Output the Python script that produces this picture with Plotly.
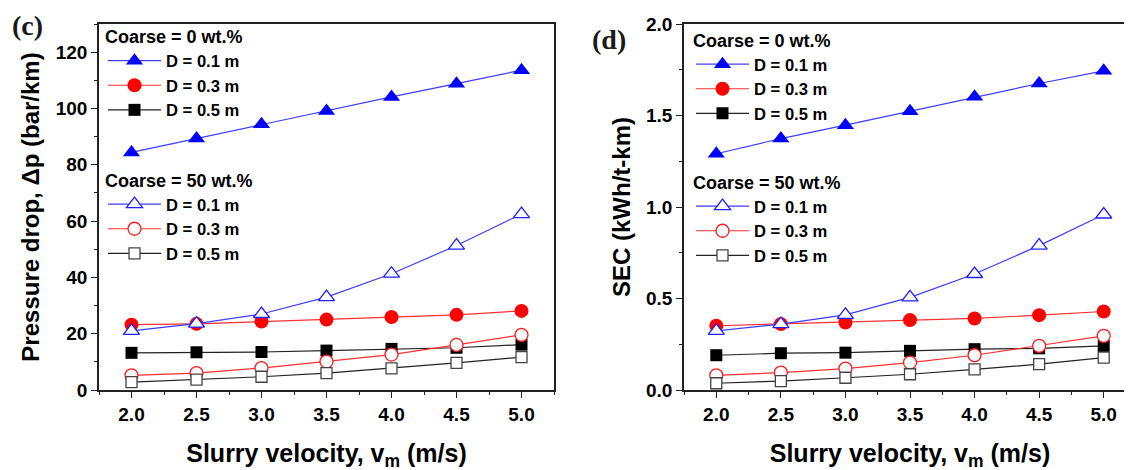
import plotly.graph_objects as go

# ---------------- data ----------------
velocity = [2.0, 2.5, 3.0, 3.5, 4.0, 4.5, 5.0]

# (c) Pressure drop, bar/km
dp_c0_d01 = [84.4, 89.3, 94.4, 99.1, 104.1, 108.8, 113.6]
dp_c0_d03 = [23.2, 23.5, 24.3, 25.0, 25.9, 26.7, 28.1]
dp_c0_d05 = [13.2, 13.4, 13.5, 14.0, 14.6, 15.0, 16.1]
dp_c50_d01 = [21.0, 23.6, 27.0, 33.0, 41.3, 51.3, 62.5]
dp_c50_d03 = [5.2, 6.0, 7.8, 10.1, 12.6, 16.0, 19.6]
dp_c50_d05 = [2.8, 3.7, 4.7, 6.0, 7.7, 9.6, 11.7]

# (d) SEC, kWh/t-km
sec_c0_d01 = [1.291, 1.374, 1.447, 1.523, 1.602, 1.675, 1.744]
sec_c0_d03 = [0.351, 0.360, 0.369, 0.382, 0.391, 0.409, 0.429]
sec_c0_d05 = [0.190, 0.201, 0.204, 0.214, 0.223, 0.228, 0.241]
sec_c50_d01 = [0.323, 0.360, 0.411, 0.506, 0.634, 0.789, 0.959]
sec_c50_d03 = [0.080, 0.095, 0.117, 0.150, 0.190, 0.241, 0.296]
sec_c50_d05 = [0.037, 0.049, 0.067, 0.086, 0.113, 0.141, 0.177]

group_titles = ["Coarse = 0 wt.%", "Coarse = 50 wt.%"]
diam_labels = ["D = 0.1 m", "D = 0.3 m", "D = 0.5 m"]

# ---------------- style ----------------
W, H = 1132, 470
OFF = 8  # page body margin offset
ML, MR, MT, MB = 91, 4, 16, 88
FONT = "Liberation Sans, Arial, sans-serif"

line_colors = ["#3d3dff", "#ff3030", "#222222"]
fill_colors = ["#0000ff", "#ff0000", "#000000"]
open_colors = ["#2020ff", "#ff1a1a", "#444444"]
symbols = ["triangle-up", "circle", "square"]
sizes = [15, 14, 12]

PW = W - ML - MR
PH = H - MT - MB


def px_x(p):
    return (p - OFF - ML) / PW


def px_y(p):
    return (H - MB - (p - OFF)) / PH


fig = go.Figure()


def add_set(xa, ya, series, filled, legend_name):
    for i, ys in enumerate(series):
        if filled:
            marker = dict(symbol=symbols[i], size=sizes[i], color=fill_colors[i],
                          line=dict(width=0))
        else:
            marker = dict(symbol=symbols[i], size=sizes[i] - 1, color="white",
                          line=dict(width=1.3, color=open_colors[i]))
        fig.add_trace(go.Scatter(
            x=velocity, y=ys, mode="lines+markers", name=diam_labels[i],
            line=dict(color=line_colors[i], width=1.2), marker=marker,
            xaxis=xa, yaxis=ya, legend=legend_name, cliponaxis=False))


add_set("x", "y", [dp_c0_d01, dp_c0_d03, dp_c0_d05], True, "legend")
add_set("x", "y", [dp_c50_d01, dp_c50_d03, dp_c50_d05], False, "legend2")
add_set("x2", "y2", [sec_c0_d01, sec_c0_d03, sec_c0_d05], True, "legend3")
add_set("x2", "y2", [sec_c50_d01, sec_c50_d03, sec_c50_d05], False, "legend4")

axis_common = dict(
    showline=True, linecolor="#222222", linewidth=1.6, mirror=True,
    ticks="outside", ticklen=6, tickwidth=1.4, tickcolor="#222222",
    showgrid=False, zeroline=False,
    tickfont=dict(family=FONT, size=19, color="black", weight="bold"),
    minor=dict(ticks="outside", ticklen=3, tickwidth=1.2, tickcolor="#222222", showgrid=False),
)
xtitle_font = dict(family=FONT, size=25, color="black", weight="bold")
ytitle_font = dict(family=FONT, size=24, color="black", weight="bold")

xtitle = "Slurry velocity, v<sub>m</sub> (m/s)"

fig.update_layout(
    width=W, height=H,
    margin=dict(l=ML, r=MR, t=MT, b=MB),
    paper_bgcolor="white", plot_bgcolor="white",
    font=dict(family=FONT, color="black"),
    xaxis=dict(domain=[0, 455 / PW], range=[1.75, 5.25], dtick=0.5, tickformat=".1f",
               anchor="y", title=dict(text=xtitle, font=xtitle_font, standoff=21),
               **{**axis_common, "minor": dict(axis_common["minor"], dtick=0.25)}),
    yaxis=dict(domain=[0, 1], range=[0, 130], dtick=20, anchor="x",
               title=dict(text="Pressure drop, \u0394p (bar/km)", font=ytitle_font, standoff=9),
               **{**axis_common, "minor": dict(axis_common["minor"], dtick=10)}),
    xaxis2=dict(domain=[585 / PW, 1], range=[1.75, 5.25], dtick=0.5,
                tickformat=".1f", anchor="y2",
                title=dict(text=xtitle, font=xtitle_font, standoff=21),
                **{**axis_common, "minor": dict(axis_common["minor"], dtick=0.25)}),
    yaxis2=dict(domain=[0, 1], range=[0, 2.0], dtick=0.5, tickformat=".1f", anchor="x2",
                title=dict(text="SEC (kWh/t-km)", font=ytitle_font, standoff=9),
                **{**axis_common, "mirror": False,
                   "minor": dict(axis_common["minor"], dtick=0.25)}),
)

legend_common = dict(
    bgcolor="rgba(0,0,0,0)", borderwidth=0, xanchor="left", yanchor="top",
    itemwidth=53, itemclick=False, itemdoubleclick=False,
    font=dict(family=FONT, size=16.6, color="black", weight="bold"),
)
leg_title_font = dict(family=FONT, size=18, color="black", weight="bold")

fig.update_layout(
    legend=dict(x=px_x(103), y=px_y(20), title=dict(text=group_titles[0], font=leg_title_font),
                **legend_common),
    legend2=dict(x=px_x(103), y=px_y(163.5), title=dict(text=group_titles[1], font=leg_title_font),
                 **legend_common),
    legend3=dict(x=px_x(691), y=px_y(23.5), title=dict(text=group_titles[0], font=leg_title_font),
                 **legend_common),
    legend4=dict(x=px_x(691), y=px_y(165.5), title=dict(text=group_titles[1], font=leg_title_font),
                 **legend_common),
)

# panel labels
label_font = dict(family="Liberation Serif, Times New Roman, serif", size=28, color="#1a1a1a")
fig.add_annotation(text="<b>(c)</b>", xref="paper", yref="paper", x=px_x(27), y=px_y(25),
                   xanchor="center", yanchor="middle", borderpad=0, showarrow=False,
                   font=label_font)
fig.add_annotation(text="<b>(d)</b>", xref="paper", yref="paper", x=px_x(609), y=px_y(39),
                   xanchor="center", yanchor="middle", borderpad=0, showarrow=False,
                   font=label_font)

fig.write_html("out.html")
